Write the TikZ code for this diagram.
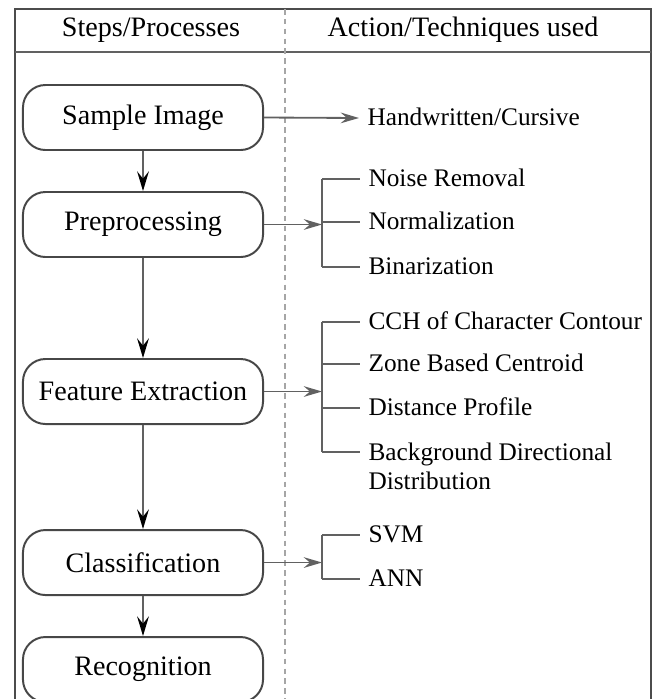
\documentclass[tikz,border=0pt]{standalone}
\usepackage{fontspec}
\setmainfont{Liberation Serif}
\usetikzlibrary{positioning,arrows.meta}

\begin{document}
\begin{tikzpicture}[
  x=0.0125cm, y=-0.0125cm,
  font=\fontsize{10}{10.5}\selectfont,
  ln/.style={draw=black!62,line width=0.65pt},
  stepbox/.style={draw=black!72,line width=0.7pt,rounded corners=8pt,minimum width=3cm,minimum height=0.8125cm,inner sep=0pt,fill=white},
  tech/.style={anchor=west,inner xsep=0.1cm,inner ysep=0pt,text height=7pt,text depth=1.4pt,font=\fontsize{9}{10.3}\selectfont},
  techtwo/.style={anchor=north west,inner xsep=0.1cm,inner ysep=0pt,align=left,font=\fontsize{9}{10.3}\selectfont},
  down/.style={ln,-{Stealth[length=7pt,width=4.2pt,inset=2.6pt,color=black]}},
  side/.style={ln,-{Stealth[length=6.5pt,width=3.8pt,inset=2.2pt]}}
]
  \useasboundingbox (0,0) rectangle (654,699);
  \clip (0,0) rectangle (654,699);

  % table frame, header rule and column divider
  \draw[ln,draw=black!70] (15,9) rectangle (651,720);
  \draw[ln] (15,52) -- (651,52);
  \draw[draw=black!35,line width=0.5pt,dash pattern=on 2pt off 1.5pt] (285,9) -- (285,720);
  \node (hsteps) at (151,30) {Steps/Processes};
  \node (hacts) at (463,30) {Action/Techniques used};

  % steps
  \node[stepbox] (si) at (143,117.5) {Sample Image};
  \node[stepbox,below=0.5cm of si] (pp) {Preprocessing};
  \node[stepbox,below=1.25cm of pp] (fe) {Feature Extraction};
  \node[stepbox,below=1.3cm of fe] (cl) {Classification};
  \node[stepbox,below=0.5cm of cl] (rc) {Recognition};
  \draw[down] (si) -- (pp);
  \draw[down] (pp) -- (fe);
  \draw[down] (fe) -- (cl);
  \draw[down] (cl) -- (rc);

  % techniques
  \node[tech] (hw) at (359,118) {Handwritten/Cursive};
  \draw[side] (si.east) -- (hw.west);

  \path (pp.east) -- ++(58,0) coordinate (pp-br);
  \node[tech] (nr) at (360,179) {Noise Removal};
  \node[tech] (nm) at (360,222) {Normalization};
  \node[tech] (bn) at (360,267) {Binarization};
  \draw[side] (pp.east) -- (pp-br);
  \draw[ln] (pp-br |- nr.west) -- (pp-br |- bn.west);
  \foreach \t in {nr,nm,bn}
    \draw[ln] (pp-br |- \t.west) -- (\t.west);

  \path (fe.east) -- ++(58,0) coordinate (fe-br);
  \node[tech] (cch) at (360,322) {CCH of Character Contour};
  \node[tech] (zbc) at (360,364) {Zone Based Centroid};
  \node[tech] (dp) at (360,408) {Distance Profile};
  \node[techtwo] (bdd) at (360,442.6) {Background Directional\\Distribution};
  \coordinate (bdd-w) at ([yshift=-3.35pt]bdd.north west);
  \draw[side] (fe.east) -- (fe-br);
  \draw[ln] (fe-br |- cch.west) -- (fe-br |- bdd-w);
  \foreach \t in {cch,zbc,dp}
    \draw[ln] (fe-br |- \t.west) -- (\t.west);
  \draw[ln] (fe-br |- bdd-w) -- (bdd-w);

  \path (cl.east) -- ++(58,0) coordinate (cl-br);
  \node[tech] (svm) at (360,535) {SVM};
  \node[tech] (ann) at (360,579) {ANN};
  \draw[side] (cl.east) -- (cl-br);
  \draw[ln] (cl-br |- svm.west) -- (cl-br |- ann.west);
  \foreach \t in {svm,ann}
    \draw[ln] (cl-br |- \t.west) -- (\t.west);
\end{tikzpicture}
\end{document}
